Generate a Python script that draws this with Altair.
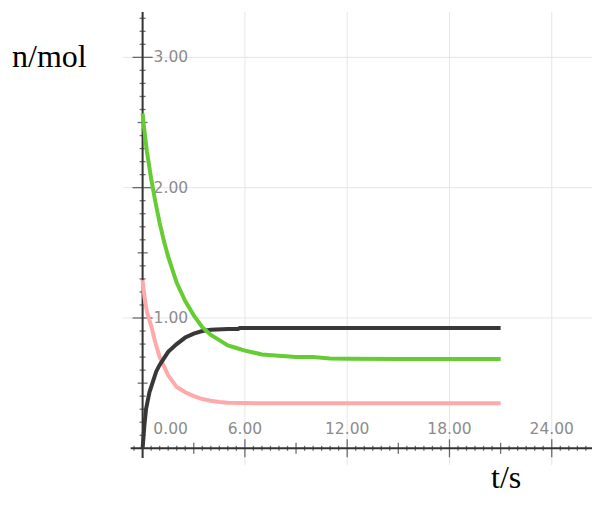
import altair as alt
import pandas as pd
import numpy as np

# ---- data ----
t_green = [0, 0.05, 0.25, 0.5, 0.75, 1.0, 1.25, 1.5, 2.0, 2.5, 3.0, 3.5, 4.0, 4.5, 5.0, 5.5, 6.0, 7.0, 8.0, 9.0, 10.0, 11.0, 12.0, 15.0, 18.0, 21.0]
n_green = [2.57, 2.50, 2.28, 2.07, 1.89, 1.73, 1.59, 1.47, 1.27, 1.13, 1.02, 0.93, 0.87, 0.83, 0.79, 0.77, 0.75, 0.72, 0.71, 0.70, 0.70, 0.69, 0.687, 0.686, 0.686, 0.686]

t_pink = [0, 0.12, 0.25, 0.5, 0.75, 1.0, 1.25, 1.5, 2.0, 2.5, 3.0, 3.5, 4.0, 4.5, 5.0, 6.0, 8.0, 12.0, 21.0]
n_pink = [1.29, 1.15, 1.05, 0.94, 0.81, 0.70, 0.63, 0.56, 0.47, 0.43, 0.40, 0.378, 0.365, 0.355, 0.35, 0.347, 0.346, 0.346, 0.346]

t_black = [0, 0.1, 0.2, 0.4, 0.6, 0.8, 1.0, 1.25, 1.5, 2.0, 2.5, 3.0, 3.5, 4.0, 5.0, 5.6, 5.7, 21.0]
n_black = [0.0, 0.17, 0.30, 0.43, 0.51, 0.59, 0.64, 0.69, 0.74, 0.80, 0.85, 0.88, 0.90, 0.91, 0.915, 0.915, 0.923, 0.923]

x_label_values = [6, 12, 18, 24]
x_label_texts = ["6.00", "12.00", "18.00", "24.00"]
x_zero_label = ["0.00"]
y_label_values = [1, 2, 3]
y_label_texts = ["1.00", "2.00", "3.00"]
x_grid = [6, 12, 18, 24]
y_grid = [1, 2, 3]
x_title = ["t/s"]
y_title = ["n/mol"]

# axis decorations (tick positions)
x_major_ticks = [6, 12, 18, 24]
x_mid_ticks = [3, 9, 15, 21]
x_minor_ticks = [v for v in np.arange(-0.5, 26.1, 0.5).round(2).tolist() if v % 3 != 0]
y_major_ticks = [1, 2, 3]
y_mid_ticks = [0.5, 1.5, 2.5]
y_minor_ticks = [v for v in np.arange(0.1, 3.31, 0.1).round(2).tolist() if round(v * 10) % 5 != 0]

X_DOMAIN = [-1.15, 26.36]
Y_DOMAIN = [-0.128, 3.348]
X_AXIS_SPAN = [-0.7, 26.36]
Y_AXIS_SPAN = [-0.075, 3.348]

GREEN = "#66cc33"
PINK = "#ffaaaa"
BLACK = "#383838"
AXIS = "#333333"
GRID = "#e6e6e6"
LABEL = "#8c8c8c"

xs = alt.Scale(domain=X_DOMAIN, nice=False, zero=False)
ys = alt.Scale(domain=Y_DOMAIN, nice=False, zero=False)


def curve(ts, ns, color):
    df = pd.DataFrame({"t": ts, "n": ns})
    return alt.Chart(df).mark_line(color=color, strokeWidth=4, strokeCap="butt").encode(
        x=alt.X("t:Q", scale=xs, axis=None),
        y=alt.Y("n:Q", scale=ys, axis=None),
        order="t:Q",
    )


def xticks(vals, size):
    return alt.Chart(pd.DataFrame({"t": vals})).mark_tick(
        orient="vertical", size=size, thickness=1.3, color=AXIS
    ).encode(x=alt.X("t:Q", scale=xs, axis=None), y=alt.YDatum(0, scale=ys, axis=None))


def yticks(vals, size):
    return alt.Chart(pd.DataFrame({"n": vals})).mark_tick(
        orient="horizontal", size=size, thickness=1.3, color=AXIS
    ).encode(y=alt.Y("n:Q", scale=ys, axis=None), x=alt.XDatum(0, scale=xs, axis=None))


xgrid = alt.Chart(pd.DataFrame({"t": x_grid})).mark_rule(color=GRID, strokeWidth=1).encode(
    x=alt.X("t:Q", scale=xs, axis=None))
ygrid = alt.Chart(pd.DataFrame({"n": y_grid})).mark_rule(color=GRID, strokeWidth=1).encode(
    y=alt.Y("n:Q", scale=ys, axis=None))

x_line = alt.Chart(pd.DataFrame({"a": [X_AXIS_SPAN[0]], "b": [X_AXIS_SPAN[1]]})).mark_rule(
    color=AXIS, strokeWidth=2).encode(
    x=alt.X("a:Q", scale=xs, axis=None), x2="b:Q", y=alt.YDatum(0, scale=ys, axis=None))
y_line = alt.Chart(pd.DataFrame({"a": [Y_AXIS_SPAN[0]], "b": [Y_AXIS_SPAN[1]]})).mark_rule(
    color=AXIS, strokeWidth=2).encode(
    y=alt.Y("a:Q", scale=ys, axis=None), y2="b:Q", x=alt.XDatum(0, scale=xs, axis=None))

label_style = dict(font="DejaVu Sans", fontSize=15.5, color=LABEL, baseline="middle")

xlabels = alt.Chart(pd.DataFrame({"t": x_label_values, "s": x_label_texts})).mark_text(
    align="center", dy=-19, **label_style).encode(
    x=alt.X("t:Q", scale=xs, axis=None), y=alt.YDatum(0, scale=ys, axis=None), text="s:N")
xzero = alt.Chart(pd.DataFrame({"t": [0], "s": x_zero_label})).mark_text(
    align="center", dx=28, dy=-19, **label_style).encode(
    x=alt.X("t:Q", scale=xs, axis=None), y=alt.YDatum(0, scale=ys, axis=None), text="s:N")
ylabels = alt.Chart(pd.DataFrame({"n": y_label_values, "s": y_label_texts})).mark_text(
    align="left", dx=11, **label_style).encode(
    y=alt.Y("n:Q", scale=ys, axis=None), x=alt.XDatum(0, scale=xs, axis=None), text="s:N")

title_style = dict(font="Liberation Serif", fontSize=32, color="black", align="left", baseline="alphabetic")
ytitle = alt.Chart(pd.DataFrame({"s": y_title})).mark_text(**title_style).encode(
    x=alt.value(-111), y=alt.value(54.5), text="s:N")
xtitle = alt.Chart(pd.DataFrame({"s": x_title})).mark_text(**title_style).encode(
    x=alt.value(368), y=alt.value(476), text="s:N")

chart = alt.layer(
    xgrid, ygrid,
    xlabels, xzero, ylabels,
    x_line, y_line,
    xticks(x_minor_ticks, 5), xticks(x_mid_ticks, 11), xticks(x_major_ticks, 18),
    yticks(y_minor_ticks, 6), yticks(y_mid_ticks, 10), yticks(y_major_ticks, 20),
    curve(t_pink, n_pink, PINK),
    curve(t_black, n_black, BLACK),
    curve(t_green, n_green, GREEN),
    ytitle, xtitle,
).properties(
    width=469, height=453,
    autosize=alt.AutoSizeParams(type="none"),
    padding={"left": 115, "top": 4, "right": 0, "bottom": 31},
    background="white",
).configure_view(stroke=None)

chart.save("out.html", embed_options={"renderer": "svg", "actions": False})
